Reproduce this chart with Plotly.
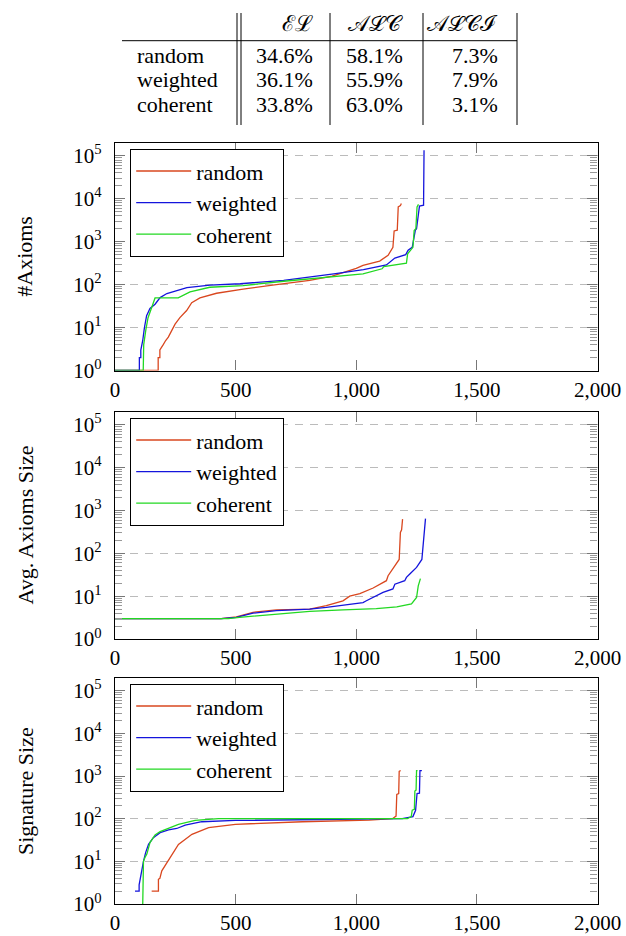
import plotly.graph_objects as go

W, H = 626, 936
FONT = "Liberation Serif, serif"

# ---------------- table data ----------------
table_header = ["ℰℒ", "𝒜ℒ𝒞", "𝒜ℒ𝒞ℐ"]
table_rows = ["random", "weighted", "coherent"]
table_el = ["34.6%", "36.1%", "33.8%"]
table_alc = ["58.1%", "55.9%", "63.0%"]
table_alci = ["7.3%", "7.9%", "3.1%"]

# ---------------- series ----------------
series_names = ["random", "weighted", "coherent"]
series_colors = ["#D9471F", "#1414DC", "#22D822"]

# Panel 1: #Axioms
axioms_random_x = [0, 179, 179, 186, 186, 195, 200, 210, 221, 235, 249, 269, 297, 318, 352, 421, 531, 669, 807, 900, 1000, 1028, 1097, 1132, 1152, 1157, 1170, 1174, 1183, 1187]
axioms_random_y = [1, 1, 2, 2, 3, 3.5, 4, 5, 6, 8.5, 12, 17, 25, 38, 49, 63, 79, 100, 126, 158, 240, 282, 355, 480, 740, 1780, 1860, 6460, 6920, 7760]
axioms_weighted_x = [0, 101, 101, 107, 107, 112, 115, 122, 131, 145, 166, 187, 215, 298, 394, 519, 699, 907, 1030, 1125, 1160, 1205, 1215, 1232, 1245, 1250, 1262, 1279, 1281]
axioms_weighted_y = [1, 1, 2, 2, 3, 4, 5, 10, 19, 28, 35, 50, 62, 85, 98, 105, 126, 178, 224, 288, 417, 501, 631, 741, 1860, 2000, 6760, 7080, 135000]
axioms_coherent_x = [0, 117, 119, 124, 128, 137, 152, 166, 262, 311, 393, 531, 700, 890, 1028, 1107, 1114, 1208, 1213, 1235, 1240, 1247, 1252, 1258]
axioms_coherent_y = [1, 1, 4, 7, 9, 17, 28, 49, 49, 68, 87, 95, 120, 148, 178, 234, 263, 316, 525, 741, 1820, 2000, 6460, 7410]

# Panel 2: Avg. Axioms Size
avg_random_x = [0, 440, 503, 572, 669, 807, 876, 945, 973, 1015, 1070, 1125, 1132, 1160, 1173, 1178, 1183, 1188, 1192]
avg_random_y = [3, 3, 3.3, 4.2, 4.8, 5.0, 6.0, 7.8, 10, 11.5, 15.5, 23, 30, 51, 63, 72, 309, 355, 631]
avg_weighted_x = [0, 440, 503, 572, 669, 807, 876, 945, 1028, 1042, 1083, 1111, 1152, 1160, 1201, 1208, 1222, 1250, 1272, 1280, 1287]
avg_weighted_y = [3, 3, 3.2, 4.0, 4.6, 5.0, 5.5, 6.2, 7.1, 7.8, 10, 12.3, 14.8, 19, 23, 27.5, 33, 47, 72, 257, 646]
avg_coherent_x = [0, 470, 516, 669, 807, 945, 1083, 1168, 1222, 1229, 1250, 1257, 1266]
avg_coherent_y = [3, 3, 3.2, 3.8, 4.4, 4.8, 5.1, 5.6, 6.3, 6.6, 9.3, 17.4, 25.7]

# Panel 3: Signature Size
sig_random_x = [152, 180, 180, 186, 194, 215, 235, 263, 319, 388, 499, 776, 1053, 1150, 1165, 1168, 1176, 1178, 1184]
sig_random_y = [2, 2, 3.8, 4, 6, 9.3, 14.8, 25, 43, 62, 74, 85, 93, 100, 115, 372, 389, 1288, 1349]
sig_weighted_x = [83, 100, 100, 104, 111, 118, 127, 139, 159, 187, 222, 256, 291, 360, 499, 776, 1191, 1235, 1246, 1252, 1262, 1264, 1272]
sig_weighted_y = [2, 2, 2.8, 3.8, 6, 10, 16, 25, 36, 47, 55, 59, 71, 85, 91, 95, 100, 112, 158, 389, 398, 1349, 1349]
sig_coherent_x = [115, 118, 125, 132, 145, 166, 187, 263, 332, 429, 1212, 1228, 1232, 1241, 1243, 1248, 1250, 1254]
sig_coherent_y = [1, 10, 12.6, 14.8, 27.5, 41.7, 50, 74, 91, 100, 100, 112, 158, 166, 447, 468, 1349, 1349]

panel_titles = ["#Axioms", "Avg. Axioms Size", "Signature Size"]
panels = [
    [(axioms_random_x, axioms_random_y), (axioms_weighted_x, axioms_weighted_y), (axioms_coherent_x, axioms_coherent_y)],
    [(avg_random_x, avg_random_y), (avg_weighted_x, avg_weighted_y), (avg_coherent_x, avg_coherent_y)],
    [(sig_random_x, sig_random_y), (sig_weighted_x, sig_weighted_y), (sig_coherent_x, sig_coherent_y)],
]

x_tickvals = [0, 500, 1000, 1500, 2000]
x_ticktext = ["0", "500", "1,000", "1,500", "2,000"]
y_tickvals = [1, 10, 100, 1000, 10000, 100000]
y_ticktext = ["10<sup>%d</sup>" % i for i in range(6)]
y_minor = [m * 10 ** e for e in range(0, 5) for m in range(2, 10)] + [200000]

# ---------------- layout geometry (px) ----------------
PL, PR = 115, 597.5
panel_px = [(143, 370.5), (412, 639), (678, 904)]


def px_x(v):
    return v / W


def px_y(v):
    return 1 - v / H


fig = go.Figure()
legend_keys = ["legend", "legend2", "legend3"]
for p, data in enumerate(panels):
    xa = "x" if p == 0 else "x%d" % (p + 1)
    ya = "y" if p == 0 else "y%d" % (p + 1)
    for s, (xs, ys) in enumerate(data):
        fig.add_trace(go.Scatter(
            x=xs, y=ys, mode="lines", name=series_names[s],
            line=dict(color=series_colors[s], width=1.3),
            xaxis=xa, yaxis=ya, legend=legend_keys[p], showlegend=True,
        ))

layout = dict(
    width=W, height=H, margin=dict(l=0, r=0, t=0, b=0, pad=0, autoexpand=False),
    paper_bgcolor="white", plot_bgcolor="white",
    font=dict(family=FONT, size=21, color="black"),
    shapes=[], annotations=[],
)

for p, (top, bot) in enumerate(panel_px):
    xk = "xaxis" if p == 0 else "xaxis%d" % (p + 1)
    yk = "yaxis" if p == 0 else "yaxis%d" % (p + 1)
    xa = "x" if p == 0 else "x%d" % (p + 1)
    ya = "y" if p == 0 else "y%d" % (p + 1)
    layout[xk] = dict(
        domain=[px_x(PL), px_x(PR)], anchor=ya, range=[0, 2000],
        tickmode="array", tickvals=x_tickvals, ticktext=x_ticktext,
        ticks="inside", ticklen=10, tickcolor="#777", tickwidth=1,
        showline=True, linecolor="black", linewidth=1.2, mirror="ticks",
        showgrid=False, zeroline=False, ticklabelstandoff=0, automargin=False,
        tickfont=dict(family=FONT, size=21, color="black"),
    )
    layout[yk] = dict(
        domain=[px_y(bot), px_y(top)], anchor=xa, type="log", range=[0, 5.3],
        tickmode="array", tickvals=y_tickvals, ticktext=y_ticktext,
        ticks="inside", ticklen=10, tickcolor="#777", tickwidth=1,
        showline=True, linecolor="black", linewidth=1.2, mirror="ticks",
        showgrid=True, gridcolor="#bbbbbb", griddash="8px,7px", gridwidth=1,
        zeroline=False, ticklabelstandoff=8, automargin=False,
        minor=dict(tickmode="array", tickvals=y_minor, ticks="inside", ticklen=7,
                   tickcolor="#999", tickwidth=1, showgrid=False),
        tickfont=dict(family=FONT, size=21, color="black"),
    )
    layout[legend_keys[p]] = dict(
        x=px_x(PL + 15), y=px_y(top + 6), xanchor="left", yanchor="top",
        bgcolor="white", bordercolor="black", borderwidth=1.2,
        font=dict(family=FONT, size=22, color="black"), itemwidth=55,
        tracegroupgap=0,
    )
    layout["annotations"].append(dict(
        text=panel_titles[p], textangle=-90, xref="paper", yref="paper",
        x=px_x(25), y=px_y((top + bot) / 2), xanchor="center", yanchor="middle",
        showarrow=False, font=dict(family=FONT, size=22, color="black"),
    ))

# ---------------- table ----------------
line_style = dict(color="black", width=1)
layout["shapes"].append(dict(type="line", xref="paper", yref="paper",
                             x0=px_x(122), x1=px_x(517), y0=px_y(40.7), y1=px_y(40.7), line=line_style))
for vx in [237, 241, 330, 423, 517]:
    layout["shapes"].append(dict(type="line", xref="paper", yref="paper",
                                 x0=px_x(vx), x1=px_x(vx), y0=px_y(13), y1=px_y(125), line=line_style))

col_right = [315, 405, 500]
row_y = [55, 79, 104]
tfont = dict(family=FONT, size=22, color="black")
for j, h in enumerate(table_header):
    layout["annotations"].append(dict(text=h, xref="paper", yref="paper", x=px_x(col_right[j]), y=px_y(23),
                                      xanchor="right", yanchor="middle", showarrow=False, font=tfont))
cols = [table_el, table_alc, table_alci]
for i, r in enumerate(table_rows):
    layout["annotations"].append(dict(text=r, xref="paper", yref="paper", x=px_x(135), y=px_y(row_y[i]),
                                      xanchor="left", yanchor="middle", showarrow=False, font=tfont))
    for j in range(3):
        layout["annotations"].append(dict(text=cols[j][i], xref="paper", yref="paper",
                                          x=px_x(col_right[j]), y=px_y(row_y[i]),
                                          xanchor="right", yanchor="middle", showarrow=False, font=tfont))

fig.update_layout(**layout)
fig.write_html(
    "out.html",
    config={"responsive": False, "displayModeBar": False},
    post_script="document.body.style.margin='0';document.body.style.overflow='hidden';",
)
